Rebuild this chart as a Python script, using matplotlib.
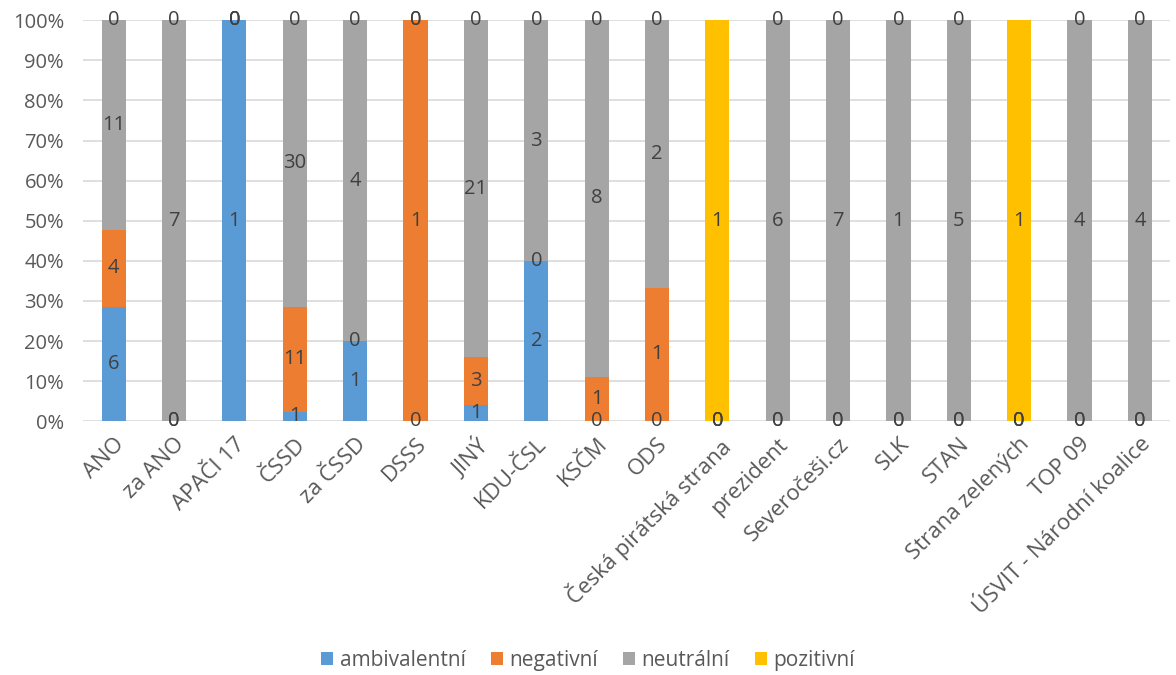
import numpy as np
import matplotlib.pyplot as plt
from matplotlib.ticker import PercentFormatter

plt.rcParams['font.family'] = ['Open Sans', 'DejaVu Sans']

# Categories and counts per sentiment
categories = ['ANO', 'za ANO', 'APAČI 17', 'ČSSD', 'za ČSSD', 'DSSS', 'JINÝ',
              'KDU-ČSL', 'KSČM', 'ODS', 'Česká pirátská strana', 'prezident',
              'Severočeši.cz', 'SLK', 'STAN', 'Strana zelených', 'TOP 09',
              'ÚSVIT - Národní koalice']
ambivalentni = [6, 0, 1, 1, 1, 0, 1, 2, 0, 0, 0, 0, 0, 0, 0, 0, 0, 0]
negativni = [4, 0, 0, 11, 0, 1, 3, 0, 1, 1, 0, 0, 0, 0, 0, 0, 0, 0]
neutralni = [11, 7, 0, 30, 4, 0, 21, 3, 8, 2, 0, 6, 7, 1, 5, 0, 4, 4]
pozitivni = [0, 0, 0, 0, 0, 0, 0, 0, 0, 0, 1, 0, 0, 0, 0, 1, 0, 0]

series = [('ambivalentní', ambivalentni, '#5B9BD5'),
          ('negativní', negativni, '#ED7D31'),
          ('neutrální', neutralni, '#A5A5A5'),
          ('pozitivní', pozitivni, '#FFC000')]

counts = np.array([s[1] for s in series], dtype=float)
totals = counts.sum(axis=0)
shares = counts / totals * 100

fig = plt.figure(figsize=(11.76, 6.75), dpi=100)
ax = fig.add_axes([0.071, 0.376, 0.924, 0.594])

x = np.arange(len(categories))
bottom = np.zeros(len(categories))
for (name, vals, color), share in zip(series, shares):
    ax.bar(x, share, 0.4, bottom=bottom, color=color, label=name, zorder=2)
    for xi, b, h, v in zip(x, bottom, share, vals):
        ax.text(xi, b + h / 2, str(v), ha='center', va='center',
                fontsize=14.5, color='#404040', zorder=3, clip_on=False)
    bottom += share

ax.set_xlim(-0.5, len(categories) - 0.5)
ax.set_ylim(0, 100)
ax.set_yticks(np.arange(0, 101, 10))
ax.yaxis.set_major_formatter(PercentFormatter(decimals=0))
ax.grid(axis='y', color='#D9D9D9', linewidth=1.2, zorder=0)
ax.set_axisbelow(True)
for sp in ax.spines.values():
    sp.set_visible(False)
ax.tick_params(axis='both', length=0, labelcolor='#595959')
ax.tick_params(axis='y', labelsize=14.5, pad=14)
ax.set_xticks(x)
ax.set_xticklabels(categories, rotation=45, ha='right', rotation_mode='anchor')
ax.tick_params(axis='x', labelsize=16, pad=9)

ax.legend(loc='lower center', bbox_to_anchor=(0.5, -0.022), bbox_transform=fig.transFigure,
          ncol=4, frameon=False, fontsize=15, handlelength=0.6, handleheight=0.6,
          handletextpad=0.3, columnspacing=1.2, labelcolor='#595959')

fig.savefig('out.png', dpi=100)
